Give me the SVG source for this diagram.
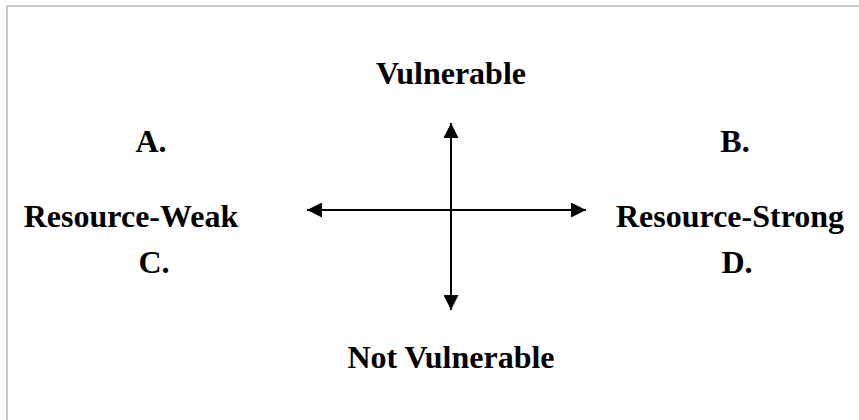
<svg xmlns="http://www.w3.org/2000/svg" width="859" height="420" viewBox="0 0 859 420">
<defs>
<style>
.t{font-family:"Liberation Serif","Times New Roman",serif;font-weight:bold;font-size:32px;fill:#000}
.ax{stroke:#000;stroke-width:2;fill:none}
</style>
<marker id="ah" viewBox="0 0 10 10" refX="10" refY="5" markerWidth="7.5" markerHeight="7.5" orient="auto-start-reverse" markerUnits="strokeWidth">
<path d="M0,0 L10,5 L0,10 Z" fill="#000"/>
</marker>
</defs>
<rect width="859" height="420" fill="#fff"/>
<path d="M7,420 V6 H859" stroke="#c8c8c8" stroke-width="2" fill="none"/>
<g id="connectors">
<line class="ax" x1="451" y1="310" x2="451" y2="123" marker-start="url(#ah)" marker-end="url(#ah)"/>
<line class="ax" x1="307" y1="210" x2="586" y2="210" marker-start="url(#ah)" marker-end="url(#ah)"/>
</g>
<g id="vulnerable"><text class="t" x="451" y="84" text-anchor="middle">Vulnerable</text></g>
<g id="not-vulnerable"><text class="t" x="451" y="368" text-anchor="middle">Not Vulnerable</text></g>
<g id="a"><text class="t" x="151" y="152" text-anchor="middle">A.</text></g>
<g id="b"><text class="t" x="735" y="152" text-anchor="middle">B.</text></g>
<g id="c"><text class="t" x="154" y="273" text-anchor="middle">C.</text></g>
<g id="d"><text class="t" x="737" y="273" text-anchor="middle">D.</text></g>
<g id="resource-weak"><text class="t" x="131" y="227" text-anchor="middle">Resource-Weak</text></g>
<g id="resource-strong"><text class="t" x="730" y="227" text-anchor="middle">Resource-Strong</text></g>
</svg>
